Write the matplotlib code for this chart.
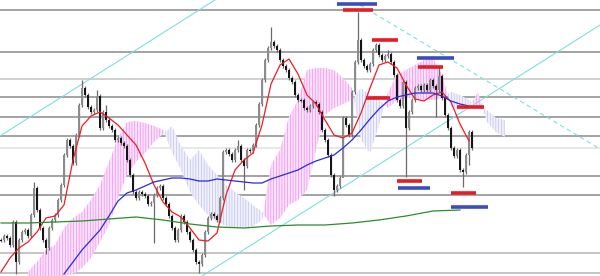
import numpy as np
import matplotlib.pyplot as plt

# Valeurs (axe vertical : pixels, 0 en haut), une bougie tous les 3 px
closes = [240, 236, 238, 245, 222, 262, 240, 232, 230, 236, 215, 188, 210, 228, 240, 248,
          228, 220, 215, 200, 185, 155, 140, 146, 163, 135, 105, 88, 95, 107, 112, 110,
          96, 128, 112, 120, 126, 130, 140, 138, 143, 146, 160, 175, 192, 198, 192, 194,
          196, 204, 203, 195, 188, 186, 198, 204, 216, 228, 240, 230, 216, 222, 232, 240,
          250, 262, 264, 255, 232, 218, 214, 216, 220, 198, 152, 150, 154, 160, 150, 146,
          160, 166, 150, 151, 145, 125, 104, 80, 60, 48, 42, 46, 50, 60, 66, 70,
          78, 82, 95, 100, 100, 108, 110, 106, 102, 104, 112, 130, 140, 155, 175, 190,
          186, 178, 118, 125, 135, 92, 62, 40, 60, 66, 70, 64, 50, 45, 55, 60,
          56, 54, 62, 75, 100, 106, 82, 128, 112, 100, 88, 86, 90, 85, 90, 80,
          86, 90, 76, 98, 115, 128, 148, 156, 150, 170, 172, 155, 132, 148]
spike_highs = {11: 182, 27: 80, 32: 90, 35: 105, 79: 140, 90: 27, 119: 12, 129: 50, 146: 67}
spike_lows = {5: 274, 15: 254, 51: 243, 66: 273, 81: 190, 111: 196, 114: 176, 135: 177,
              145: 117, 154: 187, 156: 165}

# moyennes mobiles
red_ma = [272, 258, 248, 242, 232, 218, 216, 205, 160, 126, 116, 112, 118, 125, 135, 145,
          163, 185, 202, 212, 217, 228, 240, 241, 233, 195, 170, 160, 153, 125, 84, 65,
          59, 74, 95, 104, 120, 135, 138, 133, 113, 88, 65, 62, 68, 85, 99, 101,
          95, 92, 102, 124, 141]          # toutes les 3 bougies depuis 0
blue_ma = [274, 262, 250, 240, 230, 216, 201, 193, 190, 186, 182, 180, 178, 178, 179, 181,
           181, 179, 180, 181, 182, 183, 183, 179, 176, 173, 170, 165, 161, 158, 155, 148,
           140, 130, 119, 109, 101, 97, 95, 93, 93, 93, 96, 101, 104, 106]  # depuis 21
green_ma = [223, 223, 222, 221, 219, 217, 220, 224, 227, 228, 226, 225, 225, 223, 220, 216,
            211, 210]                     # toutes les 9 bougies

# nuage ichimoku, toutes les 3 bougies depuis la bougie 9
span_a = [272, 262, 250, 245, 228, 218, 212, 200, 185, 162, 138, 122, 121, 123, 126, 130,
          152, 170, 192, 205, 215, 222, 226, 228, 228, 226, 220, 165, 150, 117, 100, 70,
          68, 68, 70, 78, 88, 140, 153, 125, 92, 75, 70, 65, 60, 58, 75, 106,
          110, 108, 92, 122, 132, 137]
span_b = [276, 276, 276, 276, 276, 274, 268, 258, 242, 225, 198, 175, 162, 153, 142, 134,
          126, 146, 160, 150, 165, 175, 185, 192, 198, 205, 212, 225, 218, 205, 200, 190,
          150, 115, 108, 104, 100, 88, 95, 100, 108, 100, 98, 98, 100, 100, 98, 92,
          95, 100, 107, 110, 118, 120]

# niveaux horizontaux
levels = [10, 52, 79, 97, 117, 136, 148, 176, 195, 253, 273]
level_colors = ['#8a8a8a', '#8a8a8a', '#c4c4c4', '#8a8a8a', '#8a8a8a', '#8a8a8a',
                '#e2e2e2', '#8a8a8a', '#8a8a8a', '#b4b4b4', '#b4b4b4']

# segments (debut, fin en bougies, niveau, couleur)
seg_start = [112, 114, 123.7, 121.7, 138.7, 139, 152, 132, 132.3, 150, 150]
seg_end = [125.3, 124, 132.3, 129.7, 151, 147.3, 161, 140.3, 143, 158.3, 162.3]
seg_level = [4, 10, 40, 98, 58, 67, 107, 181, 188, 193, 207]
seg_color = ['blue', 'red', 'red', 'red', 'blue', 'red', 'red', 'red', 'blue', 'red', 'blue']

# lignes de tendance (bougie, niveau)
trend_x = [(-0.33, 71.3), (67, 199.7), (119.7, 199.7)]
trend_y = [(136, 0), (276, 25), (5, 149)]
trend_style = ['-', '-', (0, (4, 3))]

plt.rcParams['hatch.linewidth'] = 0.5

fig = plt.figure(figsize=(6, 2.76), dpi=100)
ax = fig.add_axes([0, 0, 1, 1])
ax.set_xlim(-1 / 3, 599 / 3)
ax.set_ylim(276, 0)
ax.axis('off')

for lv, c in zip(levels, level_colors):
    ax.axhline(lv, color=c, lw=1.1, zorder=1)

# nuage
xc = np.arange(len(span_a)) * 3 + 9
a = np.array(span_a, float)
b = np.array(span_b, float)
ax.fill_between(xc, a, b, where=a <= b, interpolate=True, facecolor='#fbe2fb',
                edgecolor='#f08cf0', hatch='||||||', linewidth=0, zorder=2)
ax.fill_between(xc, a, b, where=a >= b, interpolate=True, facecolor='#f1f1fc',
                edgecolor='#c0c0f0', hatch='||||||', linewidth=0, zorder=2)

# bougies
for i, c in enumerate(closes):
    o = closes[i - 1] if i > 0 else c
    top, bot = min(o, c), max(o, c)
    hi = spike_highs.get(i, top - 2)
    lo = spike_lows.get(i, bot + 2)
    ax.vlines(i, hi, lo, color='#6a6a6a', lw=0.9, zorder=3)
    col = '#8c8c8c' if c < o else '#151515'
    ax.bar(i, max(bot - top, 1), bottom=top, width=0.7, color=col, lw=0, zorder=4)

# moyennes mobiles
ax.plot(np.arange(len(red_ma)) * 3, red_ma, color='#ee1c24', lw=0.9, zorder=5)
ax.plot(np.arange(len(blue_ma)) * 3 + 21, blue_ma, color='#2a2ae0', lw=0.9, zorder=5)
ax.plot(np.arange(len(green_ma)) * 9, green_ma, color='#2e8b2e', lw=0.9, zorder=5)

for tx, ty, ls in zip(trend_x, trend_y, trend_style):
    ax.plot(tx, ty, color='#7fdede', lw=0.8, ls=ls, zorder=2)

cmap = {'red': '#e51c23', 'blue': '#3a4cc0'}
for s, e, lv, c in zip(seg_start, seg_end, seg_level, seg_color):
    ax.hlines(lv, s, e, color=cmap[c], lw=2.6, zorder=6)

fig.savefig('out.png', dpi=100, facecolor='white')
